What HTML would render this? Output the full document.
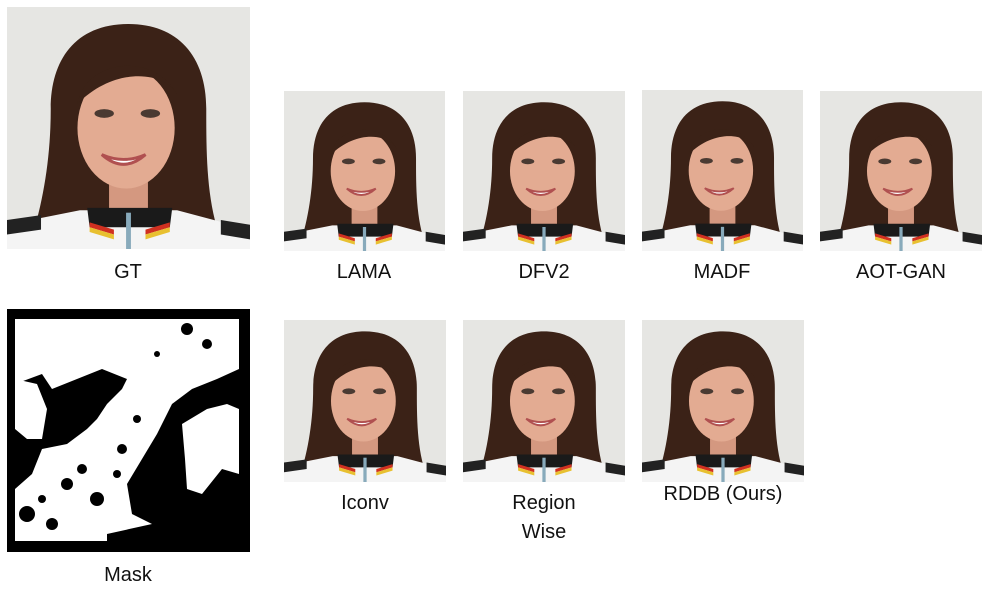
<!DOCTYPE html>
<html><head><meta charset="utf-8">
<style>
html,body{margin:0;padding:0;background:#fff;}
body{width:993px;height:592px;position:relative;overflow:hidden;font-family:"Liberation Sans",Arial,sans-serif;}
.p{position:absolute;}
.lbl{position:absolute;font-size:20px;color:#111;text-align:center;width:200px;line-height:29px;}
</style></head>
<body>
<svg width="0" height="0" style="position:absolute">
<defs>
<symbol id="face" viewBox="0 0 100 100" preserveAspectRatio="none">
<rect width="100" height="100" fill="#e6e6e3"/>
<path d="M50 7 C28 7 18 22 18 42 C18 62 15 80 10 96 L88 96 C82 80 82 60 82 42 C82 20 70 7 50 7Z" fill="#3b2217"/>
<rect x="42" y="68" width="16" height="18" fill="#d49880"/>
<ellipse cx="49" cy="50" rx="20" ry="25" fill="#e3ab92"/>
<path d="M29 40 C32 22 60 18 70 36 C65 27 45 24 29 40Z" fill="#3b2217"/>
<ellipse cx="40" cy="44" rx="4" ry="1.8" fill="#4a3a32"/>
<ellipse cx="59" cy="44" rx="4" ry="1.8" fill="#4a3a32"/>
<path d="M39 61 Q48 69 57 61 Q48 65 39 61Z" fill="#fff" stroke="#b05050" stroke-width="1.2"/>
<path d="M0 90 L30 84 L70 84 L100 92 L100 100 L0 100Z" fill="#f4f4f4"/>
<path d="M33 83 L68 83 L67 91 L34 91Z" fill="#1a1a1a"/>
<path d="M34 89 L44 92 L44 94 L34 91Z" fill="#d03020"/>
<path d="M57 92 L67 89 L67 91 L57 94Z" fill="#d03020"/>
<path d="M34 91 L44 94 L44 96 L34 93Z" fill="#e8c030"/>
<path d="M57 94 L67 91 L67 93 L57 96Z" fill="#e8c030"/>
<rect x="49" y="85" width="2" height="15" fill="#8ab"/>
<path d="M0 88 L14 86 L14 92 L0 94Z" fill="#222"/>
<path d="M88 88 L100 90 L100 96 L88 94Z" fill="#222"/>
</symbol>
</defs>
</svg>

<svg class="p" style="left:7px;top:7px" width="243" height="242"><use href="#face" width="243" height="242"/></svg>
<div class="lbl" style="left:28px;top:258px">GT</div>

<svg class="p" style="left:284px;top:91px" width="161" height="160"><use href="#face" width="161" height="160"/></svg>
<div class="lbl" style="left:264px;top:258px">LAMA</div>
<svg class="p" style="left:463px;top:91px" width="162" height="160"><use href="#face" width="162" height="160"/></svg>
<div class="lbl" style="left:444px;top:258px">DFV2</div>
<svg class="p" style="left:642px;top:90px" width="161" height="161"><use href="#face" width="161" height="161"/></svg>
<div class="lbl" style="left:622px;top:258px">MADF</div>
<svg class="p" style="left:820px;top:91px" width="162" height="160"><use href="#face" width="162" height="160"/></svg>
<div class="lbl" style="left:801px;top:258px">AOT-GAN</div>

<svg class="p" style="left:7px;top:309px" width="243" height="243" viewBox="0 0 243 243">
<rect width="243" height="243" fill="#000"/>
<path d="M8 10 L232 10 L232 60 L210 70 L185 80 L165 95 L150 125 L135 150 L120 175 L125 205 L145 215 L100 225 L100 232 L8 232 L8 180 L25 165 L35 140 L60 135 L80 120 L90 110 L100 95 L115 80 L120 70 L95 60 L70 70 L45 80 L35 65 L8 75Z" fill="#fff"/>
<path d="M8 70 L30 75 L40 100 L35 130 L20 130 L8 120Z" fill="#fff"/>
<path d="M175 115 L200 100 L220 95 L232 100 L232 165 L215 160 L195 185 L180 180 L178 150Z" fill="#fff"/>
<g fill="#000">
<circle cx="20" cy="205" r="8"/><circle cx="60" cy="175" r="6"/><circle cx="90" cy="190" r="7"/>
<circle cx="75" cy="160" r="5"/><circle cx="115" cy="140" r="5"/><circle cx="130" cy="110" r="4"/>
<circle cx="180" cy="20" r="6"/><circle cx="200" cy="35" r="5"/><circle cx="45" cy="215" r="6"/>
<circle cx="150" cy="45" r="3"/><circle cx="110" cy="165" r="4"/><circle cx="35" cy="190" r="4"/>
</g>
</svg>
<div class="lbl" style="left:28px;top:561px">Mask</div>

<svg class="p" style="left:284px;top:320px" width="162" height="162"><use href="#face" width="162" height="162"/></svg>
<div class="lbl" style="left:265px;top:489px">Iconv</div>
<svg class="p" style="left:463px;top:320px" width="162" height="162"><use href="#face" width="162" height="162"/></svg>
<div class="lbl" style="left:444px;top:489px">Region<br>Wise</div>
<svg class="p" style="left:642px;top:320px" width="162" height="162"><use href="#face" width="162" height="162"/></svg>
<div class="lbl" style="left:623px;top:480px">RDDB (Ours)</div>
</body></html>
